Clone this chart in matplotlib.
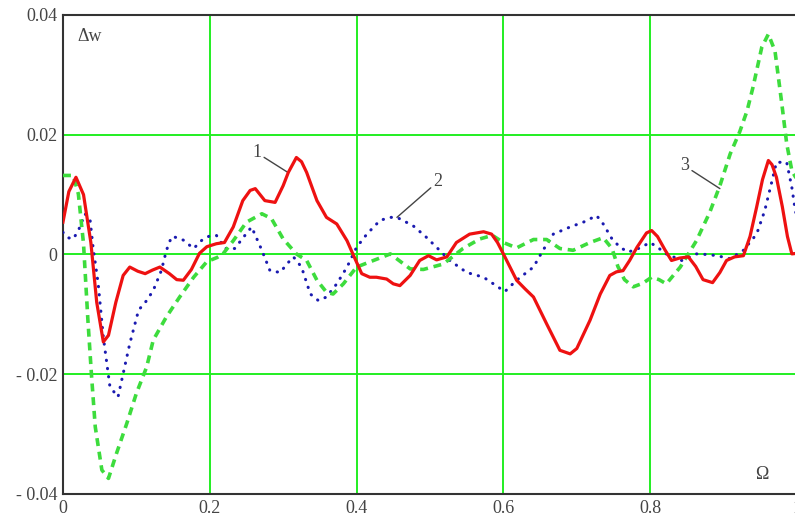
#!/usr/bin/env python

import numpy as np
import matplotlib
matplotlib.use('Agg')
import matplotlib.pyplot as plt

# curve 1 (solid red)
x1 = [0.0, 0.008, 0.0177, 0.028, 0.038, 0.046, 0.055, 0.062, 0.072, 0.082,
      0.091, 0.102, 0.112, 0.122, 0.132, 0.145, 0.155, 0.164, 0.175, 0.186,
      0.196, 0.209, 0.220, 0.232, 0.245, 0.255, 0.262, 0.275, 0.289, 0.300,
      0.307, 0.318, 0.325, 0.332, 0.340, 0.346, 0.359, 0.373, 0.387, 0.396,
      0.407, 0.418, 0.427, 0.441, 0.450, 0.459, 0.473, 0.486, 0.498, 0.509,
      0.523, 0.536, 0.554, 0.573, 0.584, 0.592, 0.600, 0.618, 0.630, 0.641,
      0.659, 0.677, 0.691, 0.700, 0.718, 0.732, 0.745, 0.754, 0.763, 0.772,
      0.782, 0.795, 0.802, 0.810, 0.820, 0.829, 0.840, 0.852, 0.862, 0.872,
      0.885, 0.895, 0.904, 0.915, 0.927, 0.936, 0.945, 0.953, 0.961, 0.966,
      0.972, 0.980, 0.987, 0.993, 1.0]
y1 = [0.0054, 0.0105, 0.0129, 0.0100, 0.0020, -0.0080, -0.0146, -0.0135, -0.0080, -0.0035,
      -0.0021, -0.0028, -0.0032, -0.0026, -0.0021, -0.0032, -0.0042, -0.0043, -0.0025, 0.0002,
      0.0013, 0.0018, 0.0020, 0.0046, 0.0090, 0.0107, 0.0110, 0.0090, 0.0087, 0.0115,
      0.0137, 0.0162, 0.0155, 0.0137, 0.0110, 0.0090, 0.0062, 0.0051, 0.0023, -0.0002,
      -0.0032, -0.0038, -0.0038, -0.0041, -0.0049, -0.0052, -0.0035, -0.0010, -0.0002, -0.0009,
      -0.0004, 0.0020, 0.0034, 0.0038, 0.0034, 0.0020, 0.0001, -0.0043, -0.0058, -0.0071,
      -0.0116, -0.0160, -0.0166, -0.0157, -0.0110, -0.0066, -0.0035, -0.0029, -0.0027, -0.0010,
      0.0012, 0.0036, 0.0040, 0.0030, 0.0008, -0.0010, -0.0006, -0.0004, -0.0020, -0.0042,
      -0.0047, -0.0030, -0.0010, -0.0004, -0.0002, 0.0030, 0.0079, 0.0125, 0.0157, 0.0150,
      0.0129, 0.0080, 0.0030, 0.0001, 0.0002]

# curve 2 (dotted blue)
x2 = [0.0, 0.007, 0.014, 0.021, 0.030, 0.037, 0.041, 0.048, 0.055, 0.064,
      0.075, 0.082, 0.091, 0.103, 0.114, 0.123, 0.134, 0.141, 0.148, 0.156,
      0.164, 0.178, 0.191, 0.200, 0.209, 0.221, 0.234, 0.246, 0.257, 0.271,
      0.282, 0.296, 0.305, 0.314, 0.325, 0.337, 0.348, 0.359, 0.373, 0.387,
      0.400, 0.414, 0.432, 0.446, 0.455, 0.477, 0.494, 0.509, 0.527, 0.550,
      0.573, 0.590, 0.602, 0.618, 0.641, 0.654, 0.668, 0.691, 0.709, 0.727,
      0.736, 0.748, 0.759, 0.770, 0.784, 0.800, 0.810, 0.822, 0.843, 0.863,
      0.877, 0.891, 0.909, 0.927, 0.945, 0.956, 0.966, 0.972, 0.986, 0.993,
      0.997, 1.0]
y2 = [0.0037, 0.0028, 0.0026, 0.0040, 0.0068, 0.0057, 0.0012, -0.0049, -0.0138, -0.0221,
      -0.0238, -0.0199, -0.0149, -0.0093, -0.0077, -0.0060, -0.0027, 0.0007, 0.0030, 0.0028,
      0.0024, 0.0010, 0.0026, 0.0031, 0.0032, 0.0010, 0.0010, 0.0029, 0.0046, 0.0007,
      -0.0027, -0.0030, -0.0016, -0.0004, -0.0021, -0.0066, -0.0077, -0.0071, -0.0049, -0.0021,
      0.0012, 0.0034, 0.0057, 0.0062, 0.0062, 0.0048, 0.0030, 0.0012, -0.0010, -0.0030,
      -0.0038, -0.0052, -0.0062, -0.0043, -0.0021, 0.0007, 0.0034, 0.0046, 0.0054, 0.0065,
      0.0051, 0.0026, 0.0012, 0.0004, 0.0010, 0.0020, 0.0012, 0.0001, -0.0010, 0.0001,
      0.0000, -0.0002, -0.0007, 0.0007, 0.0034, 0.0073, 0.0123, 0.0154, 0.0154, 0.0112,
      0.0079, 0.0060]

# curve 3 (dashed green)
x3 = [0.0, 0.014, 0.021, 0.028, 0.034, 0.039, 0.044, 0.053, 0.062, 0.073,
      0.087, 0.100, 0.114, 0.123, 0.141, 0.159, 0.178, 0.196, 0.210, 0.218,
      0.232, 0.250, 0.271, 0.284, 0.300, 0.318, 0.332, 0.346, 0.359, 0.368,
      0.382, 0.400, 0.423, 0.446, 0.460, 0.473, 0.491, 0.518, 0.545, 0.568,
      0.585, 0.600, 0.618, 0.641, 0.659, 0.677, 0.695, 0.718, 0.736, 0.748,
      0.756, 0.765, 0.777, 0.790, 0.802, 0.812, 0.822, 0.841, 0.863, 0.881,
      0.895, 0.909, 0.922, 0.932, 0.940, 0.952, 0.961, 0.970, 0.979, 0.986,
      0.993, 1.0]
y3 = [0.0132, 0.0132, 0.0101, 0.0018, -0.0110, -0.0204, -0.0288, -0.0360, -0.0374, -0.0332,
      -0.0282, -0.0232, -0.0188, -0.0143, -0.0104, -0.0071, -0.0038, -0.0012, -0.0005, 0.0001,
      0.0023, 0.0054, 0.0068, 0.0060, 0.0026, 0.0001, -0.0010, -0.0043, -0.0063, -0.0066,
      -0.0049, -0.0021, -0.0010, 0.0001, -0.0012, -0.0024, -0.0025, -0.0016, 0.0010, 0.0026,
      0.0032, 0.0020, 0.0011, 0.0025, 0.0025, 0.0010, 0.0007, 0.0020, 0.0028, 0.0010,
      -0.0020, -0.0042, -0.0054, -0.0048, -0.0038, -0.0042, -0.0049, -0.0021, 0.0023, 0.0070,
      0.0115, 0.0168, 0.0205, 0.0240, 0.0279, 0.0346, 0.0368, 0.0340, 0.0255, 0.0185,
      0.0140, 0.0125]

xTicks = [0.0, 0.2, 0.4, 0.6, 0.8, 1.0]
xTickLabels = ['0', '0.2', '0.4', '0.6', '0.8', '1']
yTicks = [-0.04, -0.02, 0.0, 0.02, 0.04]
yTickLabels = ['- 0.04', '- 0.02', '0', '0.02', '0.04']

plt.rcParams['font.family'] = ['Liberation Serif', 'DejaVu Serif']
textColor = '#444444'

fig = plt.figure(figsize=(7.95, 5.19), dpi=100)
ax = fig.add_axes([0.0792, 0.0482, 0.9233, 0.9229])

ax.plot(x1, y1, color='#ee1111', linewidth=2.3, zorder=4)
ax.plot(x2, y2, color='#1a1ab0', linewidth=2.2, linestyle=(0, (0.1, 2.6)),
        dash_capstyle='round', zorder=3)
ax.plot(x3, y3, color='#3ddc3d', linewidth=2.6, linestyle=(0, (2.2, 1.6)), zorder=3)

ax.set_xlim(0, 1)
ax.set_ylim(-0.04, 0.04)
ax.set_xticks(xTicks)
ax.set_xticklabels(xTickLabels)
ax.set_yticks(yTicks)
ax.set_yticklabels(yTickLabels)
ax.tick_params(length=0, labelsize=13, labelcolor=textColor, pad=4)

ax.grid(True, color='#22ee22', linewidth=1.4)
ax.set_axisbelow(True)
for side in ['left', 'bottom', 'top']:
    ax.spines[side].set_color('#333333')
    ax.spines[side].set_linewidth(1.5)
ax.spines['right'].set_visible(False)

# axis names inside the frame
ax.text(0.02, 0.955, '\u0394w', transform=ax.transAxes, fontsize=13,
        color=textColor, va='center', ha='left')
ax.text(0.952, 0.04, '\u03a9', transform=ax.transAxes, fontsize=13,
        color=textColor, va='center', ha='center')

# curve numbers with leader lines
leader = dict(arrowstyle='-', color='#444444', linewidth=1.0, shrinkA=0, shrinkB=0)
ax.annotate('1', xy=(0.3065, 0.0137), xytext=(0.264, 0.0170), fontsize=13,
            color=textColor, ha='center', va='center', arrowprops=leader)
ax.annotate('2', xy=(0.455, 0.0062), xytext=(0.511, 0.0122), fontsize=13,
            color=textColor, ha='center', va='center', arrowprops=leader)
ax.annotate('3', xy=(0.895, 0.0110), xytext=(0.847, 0.0148), fontsize=13,
            color=textColor, ha='center', va='center', arrowprops=leader)

fig.savefig('out.png', dpi=100)
